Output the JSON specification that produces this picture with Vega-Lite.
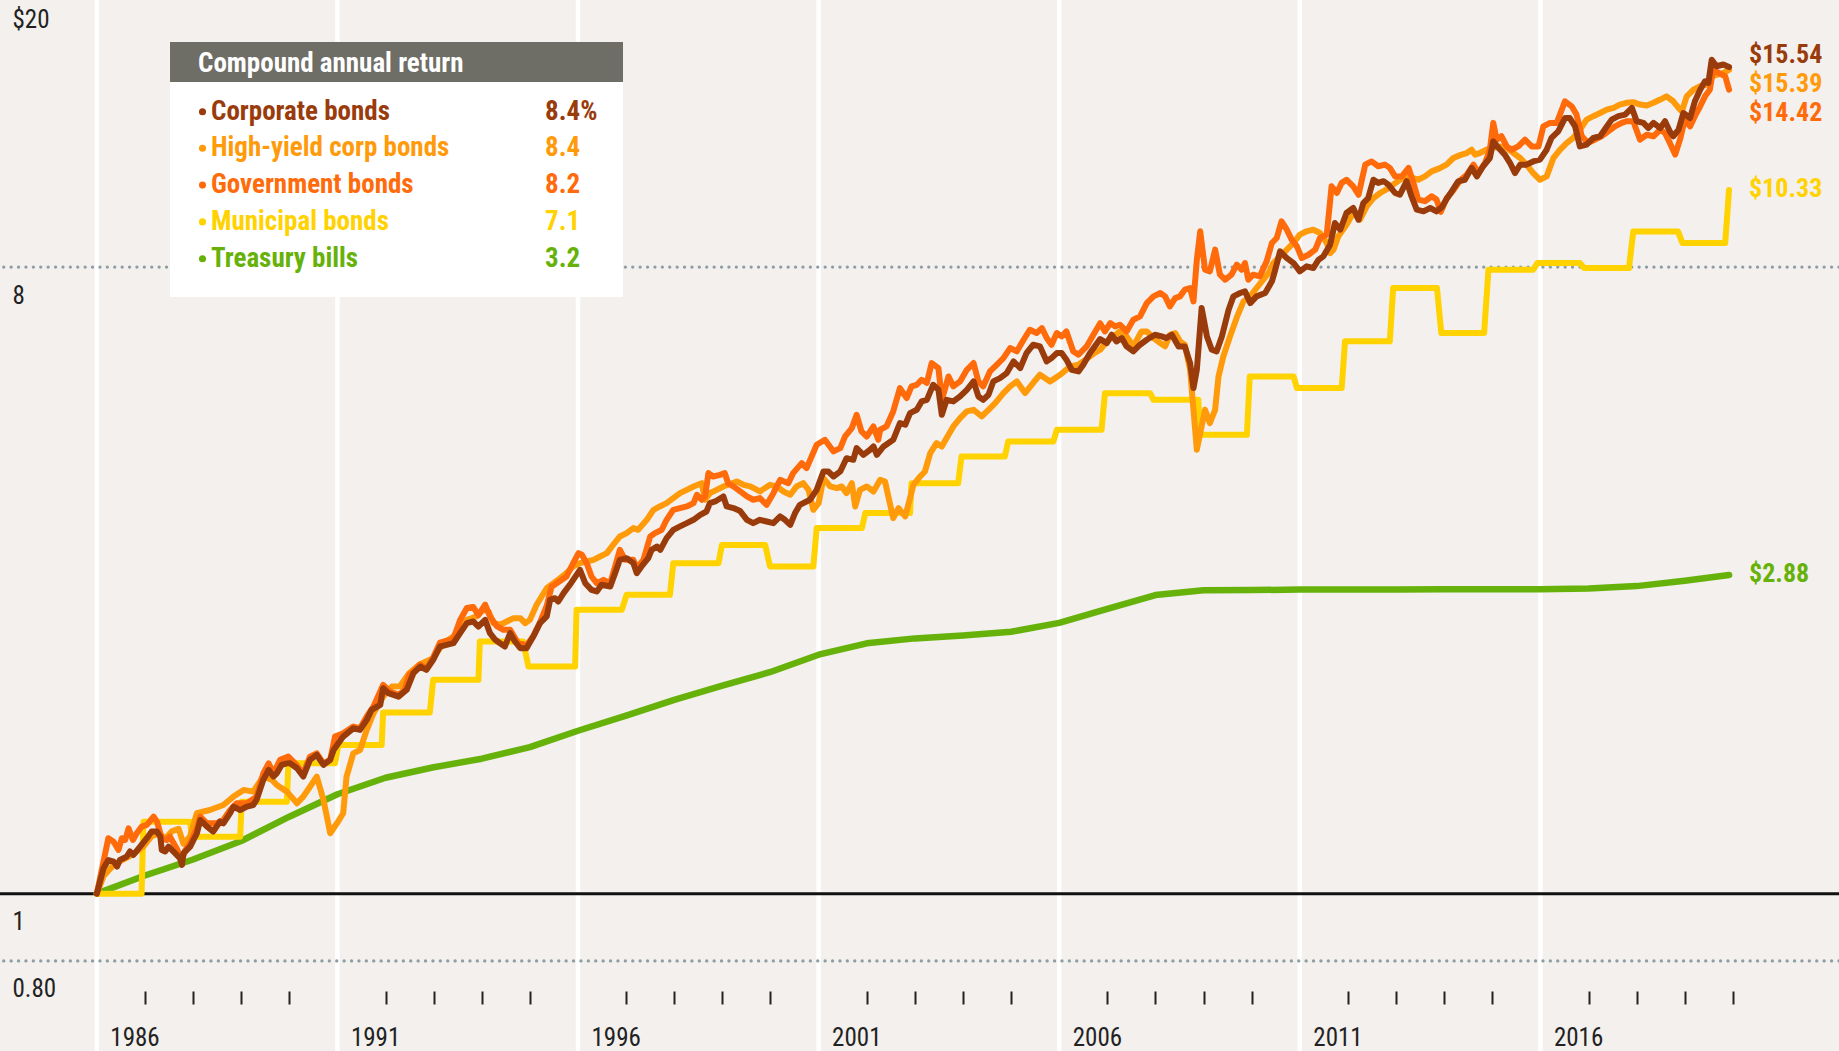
{
  "$schema": "https://vega.github.io/schema/vega-lite/v6.json",
  "width": 1839,
  "height": 1060,
  "autosize": {"type": "none"},
  "padding": {"top": -9, "left": 0, "right": 0, "bottom": 0},
  "background": "#f3f0ed",
  "config": {
    "view": {"stroke": null},
    "font": "Noto Sans ExtraCondensed, Roboto Condensed, Noto Sans Condensed, DejaVu Sans Condensed, sans-serif"
  },
  "datasets": {
    "corp": [
      {"year":1986.00,"value":1.000},{"year":1986.14,"value":1.088},{"year":1986.24,"value":1.118},{"year":1986.35,"value":1.112},{"year":1986.42,"value":1.094},{"year":1986.48,"value":1.118},{"year":1986.62,"value":1.131},{"year":1986.69,"value":1.150},{"year":1986.76,"value":1.137},{"year":1986.90,"value":1.169},
      {"year":1987.04,"value":1.202},{"year":1987.14,"value":1.229},{"year":1987.25,"value":1.229},{"year":1987.32,"value":1.208},{"year":1987.35,"value":1.156},{"year":1987.42,"value":1.150},{"year":1987.49,"value":1.169},{"year":1987.63,"value":1.143},{"year":1987.73,"value":1.124},{"year":1987.77,"value":1.100},{"year":1987.80,"value":1.143},{"year":1987.94,"value":1.169},
      {"year":1988.08,"value":1.222},{"year":1988.15,"value":1.277},{"year":1988.29,"value":1.249},{"year":1988.42,"value":1.229},{"year":1988.49,"value":1.249},{"year":1988.56,"value":1.270},{"year":1988.63,"value":1.263},{"year":1988.77,"value":1.306},{"year":1988.84,"value":1.335},{"year":1988.98,"value":1.320},
      {"year":1989.12,"value":1.335},{"year":1989.25,"value":1.342},{"year":1989.32,"value":1.365},{"year":1989.46,"value":1.459},{"year":1989.57,"value":1.508},{"year":1989.67,"value":1.475},{"year":1989.74,"value":1.491},{"year":1989.84,"value":1.533},{"year":1989.95,"value":1.541},
      {"year":1990.02,"value":1.541},{"year":1990.16,"value":1.516},{"year":1990.29,"value":1.475},{"year":1990.43,"value":1.559},{"year":1990.57,"value":1.585},{"year":1990.71,"value":1.533},{"year":1990.85,"value":1.559},{"year":1990.92,"value":1.611},
      {"year":1991.12,"value":1.684},{"year":1991.33,"value":1.731},{"year":1991.47,"value":1.722},{"year":1991.61,"value":1.780},{"year":1991.71,"value":1.840},{"year":1991.89,"value":1.871},{"year":1991.95,"value":1.977},
      {"year":1992.06,"value":1.945},{"year":1992.27,"value":1.923},{"year":1992.44,"value":1.967},{"year":1992.58,"value":2.079},{"year":1992.72,"value":2.125},{"year":1992.85,"value":2.102},{"year":1992.99,"value":2.173},
      {"year":1993.13,"value":2.271},{"year":1993.27,"value":2.283},{"year":1993.41,"value":2.296},{"year":1993.55,"value":2.374},{"year":1993.69,"value":2.454},{"year":1993.82,"value":2.468},{"year":1993.93,"value":2.427},
      {"year":1994.07,"value":2.481},{"year":1994.17,"value":2.374},{"year":1994.28,"value":2.322},{"year":1994.38,"value":2.296},{"year":1994.48,"value":2.271},{"year":1994.59,"value":2.374},{"year":1994.69,"value":2.309},{"year":1994.80,"value":2.258},{"year":1994.93,"value":2.258},
      {"year":1995.07,"value":2.347},{"year":1995.21,"value":2.454},{"year":1995.35,"value":2.509},{"year":1995.42,"value":2.651},{"year":1995.52,"value":2.666},{"year":1995.59,"value":2.637},{"year":1995.70,"value":2.711},{"year":1995.83,"value":2.787},{"year":1995.97,"value":2.881},
      {"year":1996.04,"value":2.929},{"year":1996.15,"value":2.802},{"year":1996.28,"value":2.741},{"year":1996.39,"value":2.726},{"year":1996.49,"value":2.787},{"year":1996.67,"value":2.771},{"year":1996.77,"value":2.897},{"year":1996.87,"value":3.028},
      {"year":1997.01,"value":3.045},{"year":1997.15,"value":2.995},{"year":1997.22,"value":2.897},{"year":1997.32,"value":2.962},{"year":1997.46,"value":3.045},{"year":1997.53,"value":3.130},{"year":1997.64,"value":3.165},{"year":1997.71,"value":3.130},{"year":1997.84,"value":3.254},{"year":1997.98,"value":3.345},
      {"year":1998.12,"value":3.383},{"year":1998.26,"value":3.420},{"year":1998.40,"value":3.458},{"year":1998.54,"value":3.516},{"year":1998.67,"value":3.555},{"year":1998.74,"value":3.655},{"year":1998.85,"value":3.675},
      {"year":1999.02,"value":3.737},{"year":1999.09,"value":3.615},{"year":1999.23,"value":3.595},{"year":1999.37,"value":3.560},{"year":1999.51,"value":3.458},{"year":1999.64,"value":3.420},{"year":1999.78,"value":3.458},{"year":1999.92,"value":3.439},
      {"year":2000.06,"value":3.420},{"year":2000.20,"value":3.497},{"year":2000.30,"value":3.458},{"year":2000.41,"value":3.401},{"year":2000.51,"value":3.536},{"year":2000.61,"value":3.634},{"year":2000.82,"value":3.696},{"year":2000.96,"value":3.820},
      {"year":2001.10,"value":4.060},{"year":2001.20,"value":4.060},{"year":2001.31,"value":3.993},{"year":2001.45,"value":4.060},{"year":2001.58,"value":4.243},{"year":2001.72,"value":4.220},{"year":2001.79,"value":4.387},{"year":2001.93,"value":4.291},
      {"year":2002.07,"value":4.363},{"year":2002.14,"value":4.411},{"year":2002.21,"value":4.291},{"year":2002.35,"value":4.411},{"year":2002.55,"value":4.510},{"year":2002.69,"value":4.767},{"year":2002.80,"value":4.741},{"year":2002.90,"value":4.928},
      {"year":2003.04,"value":4.982},{"year":2003.14,"value":5.122},{"year":2003.25,"value":5.150},{"year":2003.38,"value":5.413},{"year":2003.49,"value":5.324},{"year":2003.56,"value":4.900},{"year":2003.66,"value":5.150},{"year":2003.80,"value":5.122},{"year":2003.94,"value":5.208},
      {"year":2004.08,"value":5.324},{"year":2004.22,"value":5.474},{"year":2004.32,"value":5.208},{"year":2004.42,"value":5.150},{"year":2004.53,"value":5.237},{"year":2004.63,"value":5.474},{"year":2004.77,"value":5.535},{"year":2004.91,"value":5.627},
      {"year":2005.05,"value":5.850},{"year":2005.19,"value":5.722},{"year":2005.32,"value":6.014},{"year":2005.46,"value":6.183},{"year":2005.60,"value":6.149},{"year":2005.74,"value":5.850},{"year":2005.84,"value":5.915},{"year":2005.95,"value":6.014},
      {"year":2006.05,"value":6.014},{"year":2006.15,"value":5.883},{"year":2006.26,"value":5.690},{"year":2006.40,"value":5.659},{"year":2006.50,"value":5.785},{"year":2006.64,"value":6.014},{"year":2006.85,"value":6.300},{"year":2006.99,"value":6.217},
      {"year":2007.09,"value":6.391},{"year":2007.19,"value":6.252},{"year":2007.30,"value":6.321},{"year":2007.40,"value":6.149},{"year":2007.54,"value":6.047},{"year":2007.68,"value":6.183},{"year":2007.82,"value":6.286},{"year":2007.99,"value":6.391},
      {"year":2008.13,"value":6.356},{"year":2008.23,"value":6.321},{"year":2008.34,"value":6.391},{"year":2008.48,"value":6.149},{"year":2008.61,"value":6.149},{"year":2008.72,"value":5.818},{"year":2008.79,"value":5.354},{"year":2008.86,"value":5.690},{"year":2008.96,"value":6.983},
      {"year":2009.07,"value":6.356},{"year":2009.17,"value":6.081},{"year":2009.27,"value":6.047},{"year":2009.38,"value":6.356},{"year":2009.52,"value":6.945},{"year":2009.62,"value":7.259},{"year":2009.76,"value":7.340},{"year":2009.86,"value":7.381},{"year":2009.97,"value":7.099},
      {"year":2010.10,"value":7.259},{"year":2010.28,"value":7.340},{"year":2010.42,"value":7.630},{"year":2010.48,"value":7.887},{"year":2010.59,"value":8.428},{"year":2010.73,"value":8.244},{"year":2010.87,"value":8.108},
      {"year":2011.00,"value":7.887},{"year":2011.14,"value":8.019},{"year":2011.28,"value":7.975},{"year":2011.39,"value":8.199},{"year":2011.49,"value":8.290},{"year":2011.63,"value":8.618},{"year":2011.73,"value":9.260},{"year":2011.84,"value":9.057},{"year":2011.97,"value":9.573},
      {"year":2012.11,"value":9.733},{"year":2012.22,"value":9.364},{"year":2012.32,"value":9.896},{"year":2012.42,"value":10.06},{"year":2012.53,"value":10.69},{"year":2012.63,"value":10.58},{"year":2012.74,"value":10.64},{"year":2012.84,"value":10.52},{"year":2012.98,"value":10.23},
      {"year":2013.08,"value":10.17},{"year":2013.22,"value":10.64},{"year":2013.32,"value":10.12},{"year":2013.43,"value":9.680},{"year":2013.57,"value":9.626},{"year":2013.71,"value":9.733},{"year":2013.84,"value":9.626},{"year":2013.95,"value":9.760},
      {"year":2014.05,"value":10.03},{"year":2014.16,"value":10.29},{"year":2014.29,"value":10.63},{"year":2014.43,"value":10.69},{"year":2014.57,"value":11.12},{"year":2014.68,"value":10.81},{"year":2014.81,"value":11.18},{"year":2014.95,"value":11.49},
      {"year":2015.02,"value":12.14},{"year":2015.13,"value":11.88},{"year":2015.26,"value":11.62},{"year":2015.37,"value":11.30},{"year":2015.47,"value":10.93},{"year":2015.58,"value":11.24},{"year":2015.71,"value":11.24},{"year":2015.85,"value":11.36},{"year":2015.99,"value":11.43},
      {"year":2016.13,"value":11.81},{"year":2016.23,"value":12.28},{"year":2016.37,"value":12.55},{"year":2016.51,"value":13.12},{"year":2016.61,"value":13.12},{"year":2016.72,"value":12.76},{"year":2016.82,"value":11.94},{"year":2016.96,"value":12.01},
      {"year":2017.10,"value":12.28},{"year":2017.24,"value":12.35},{"year":2017.38,"value":12.76},{"year":2017.48,"value":13.05},{"year":2017.62,"value":13.20},{"year":2017.76,"value":13.27},{"year":2017.90,"value":13.57},
      {"year":2018.00,"value":12.98},{"year":2018.14,"value":12.91},{"year":2018.24,"value":12.69},{"year":2018.35,"value":12.91},{"year":2018.49,"value":12.69},{"year":2018.59,"value":12.98},{"year":2018.69,"value":12.55},{"year":2018.76,"value":12.35},{"year":2018.87,"value":12.62},{"year":2018.97,"value":13.34},
      {"year":2019.11,"value":13.12},{"year":2019.21,"value":13.87},{"year":2019.32,"value":14.41},{"year":2019.42,"value":14.82},{"year":2019.49,"value":14.74},{"year":2019.56,"value":15.92},{"year":2019.66,"value":15.58},{"year":2019.80,"value":15.67},{"year":2019.92,"value":15.54}
    ],
    "gov": [
      {"year":1986.00,"value":1.000},{"year":1986.24,"value":1.202},{"year":1986.35,"value":1.188},{"year":1986.45,"value":1.156},{"year":1986.52,"value":1.202},{"year":1986.59,"value":1.195},{"year":1986.66,"value":1.242},{"year":1986.75,"value":1.195},{"year":1986.83,"value":1.222},{"year":1986.93,"value":1.249},
      {"year":1987.04,"value":1.256},{"year":1987.18,"value":1.291},{"year":1987.25,"value":1.270},{"year":1987.35,"value":1.202},{"year":1987.45,"value":1.195},{"year":1987.52,"value":1.208},{"year":1987.66,"value":1.162},{"year":1987.77,"value":1.118},{"year":1987.84,"value":1.156},{"year":1987.94,"value":1.182},
      {"year":1988.08,"value":1.242},{"year":1988.15,"value":1.291},{"year":1988.29,"value":1.263},{"year":1988.49,"value":1.263},{"year":1988.63,"value":1.277},{"year":1988.77,"value":1.320},{"year":1988.91,"value":1.350},
      {"year":1989.12,"value":1.350},{"year":1989.32,"value":1.380},{"year":1989.46,"value":1.491},{"year":1989.57,"value":1.541},{"year":1989.67,"value":1.491},{"year":1989.81,"value":1.559},{"year":1989.98,"value":1.576},
      {"year":1990.12,"value":1.541},{"year":1990.29,"value":1.491},{"year":1990.43,"value":1.576},{"year":1990.57,"value":1.593},{"year":1990.71,"value":1.541},{"year":1990.85,"value":1.559},{"year":1990.95,"value":1.684},
      {"year":1991.12,"value":1.703},{"year":1991.33,"value":1.741},{"year":1991.47,"value":1.731},{"year":1991.61,"value":1.800},{"year":1991.75,"value":1.861},{"year":1991.95,"value":1.999},
      {"year":1992.09,"value":1.956},{"year":1992.27,"value":1.934},{"year":1992.40,"value":1.966},{"year":1992.49,"value":2.067},{"year":1992.58,"value":2.090},{"year":1992.72,"value":2.140},{"year":1992.85,"value":2.110},{"year":1992.99,"value":2.190},
      {"year":1993.13,"value":2.300},{"year":1993.41,"value":2.330},{"year":1993.55,"value":2.480},{"year":1993.69,"value":2.580},{"year":1993.82,"value":2.590},{"year":1993.93,"value":2.520},
      {"year":1994.07,"value":2.610},{"year":1994.17,"value":2.510},{"year":1994.31,"value":2.430},{"year":1994.45,"value":2.400},{"year":1994.59,"value":2.400},{"year":1994.75,"value":2.300},{"year":1994.93,"value":2.280},
      {"year":1995.07,"value":2.350},{"year":1995.21,"value":2.460},{"year":1995.35,"value":2.600},{"year":1995.45,"value":2.770},{"year":1995.76,"value":2.865},{"year":1995.90,"value":2.995},
      {"year":1996.01,"value":3.096},{"year":1996.08,"value":3.079},{"year":1996.18,"value":2.995},{"year":1996.28,"value":2.865},{"year":1996.39,"value":2.802},{"year":1996.53,"value":2.833},{"year":1996.67,"value":2.802},{"year":1996.77,"value":2.962},{"year":1996.87,"value":3.130},{"year":1996.98,"value":3.028},
      {"year":1997.15,"value":3.028},{"year":1997.22,"value":2.945},{"year":1997.36,"value":3.028},{"year":1997.50,"value":3.272},{"year":1997.60,"value":3.309},{"year":1997.74,"value":3.345},{"year":1997.84,"value":3.458},{"year":1997.98,"value":3.575},
      {"year":1998.12,"value":3.595},{"year":1998.26,"value":3.615},{"year":1998.40,"value":3.655},{"year":1998.47,"value":3.758},{"year":1998.57,"value":3.696},{"year":1998.64,"value":3.737},{"year":1998.71,"value":4.038},{"year":1998.81,"value":3.993},{"year":1998.95,"value":4.015},
      {"year":1999.05,"value":4.038},{"year":1999.12,"value":3.905},{"year":1999.23,"value":3.863},{"year":1999.37,"value":3.800},{"year":1999.51,"value":3.737},{"year":1999.64,"value":3.696},{"year":1999.78,"value":3.716},{"year":1999.92,"value":3.634},
      {"year":2000.06,"value":3.778},{"year":2000.20,"value":3.949},{"year":2000.37,"value":3.905},{"year":2000.47,"value":4.038},{"year":2000.65,"value":4.174},{"year":2000.75,"value":4.105},{"year":2000.96,"value":4.436},
      {"year":2001.13,"value":4.510},{"year":2001.31,"value":4.339},{"year":2001.45,"value":4.387},{"year":2001.55,"value":4.560},{"year":2001.69,"value":4.688},{"year":2001.79,"value":4.900},{"year":2001.89,"value":4.637},
      {"year":2002.00,"value":4.560},{"year":2002.14,"value":4.714},{"year":2002.24,"value":4.510},{"year":2002.28,"value":4.663},{"year":2002.41,"value":4.714},{"year":2002.55,"value":4.955},{"year":2002.69,"value":5.354},{"year":2002.83,"value":5.179},{"year":2002.93,"value":5.384},
      {"year":2003.04,"value":5.413},{"year":2003.14,"value":5.504},{"year":2003.25,"value":5.449},{"year":2003.35,"value":5.818},{"year":2003.49,"value":5.722},{"year":2003.56,"value":5.150},{"year":2003.70,"value":5.565},{"year":2003.80,"value":5.384},{"year":2003.94,"value":5.474},
      {"year":2004.08,"value":5.690},{"year":2004.22,"value":5.818},{"year":2004.32,"value":5.474},{"year":2004.42,"value":5.384},{"year":2004.56,"value":5.659},{"year":2004.70,"value":5.785},{"year":2004.84,"value":5.915},{"year":2004.98,"value":6.115},
      {"year":2005.12,"value":6.049},{"year":2005.26,"value":6.286},{"year":2005.39,"value":6.498},{"year":2005.53,"value":6.428},{"year":2005.64,"value":6.534},{"year":2005.74,"value":6.321},{"year":2005.84,"value":6.183},{"year":2005.95,"value":6.428},
      {"year":2006.05,"value":6.356},{"year":2006.15,"value":6.462},{"year":2006.29,"value":6.049},{"year":2006.40,"value":5.981},{"year":2006.57,"value":6.149},{"year":2006.71,"value":6.391},{"year":2006.85,"value":6.640},{"year":2006.95,"value":6.461},
      {"year":2007.06,"value":6.643},{"year":2007.16,"value":6.571},{"year":2007.26,"value":6.607},{"year":2007.40,"value":6.461},{"year":2007.54,"value":6.717},{"year":2007.68,"value":6.792},{"year":2007.82,"value":7.099},{"year":2007.96,"value":7.259},
      {"year":2008.10,"value":7.340},{"year":2008.20,"value":7.259},{"year":2008.30,"value":7.021},{"year":2008.41,"value":7.219},{"year":2008.51,"value":7.259},{"year":2008.61,"value":7.421},{"year":2008.72,"value":7.462},{"year":2008.79,"value":7.139},{"year":2008.86,"value":8.199},{"year":2008.93,"value":9.009},
      {"year":2009.03,"value":7.931},{"year":2009.13,"value":7.887},{"year":2009.24,"value":8.476},{"year":2009.34,"value":7.801},{"year":2009.45,"value":7.672},{"year":2009.58,"value":7.801},{"year":2009.69,"value":8.064},{"year":2009.79,"value":7.931},{"year":2009.86,"value":8.108},{"year":2009.93,"value":7.672},
      {"year":2010.03,"value":7.801},{"year":2010.17,"value":7.758},{"year":2010.31,"value":8.154},{"year":2010.42,"value":8.666},{"year":2010.52,"value":8.811},{"year":2010.62,"value":9.311},{"year":2010.73,"value":9.057},{"year":2010.83,"value":8.762},{"year":2010.94,"value":8.570},
      {"year":2011.04,"value":8.244},{"year":2011.18,"value":8.335},{"year":2011.32,"value":8.476},{"year":2011.42,"value":8.811},{"year":2011.56,"value":8.909},{"year":2011.66,"value":10.46},{"year":2011.77,"value":10.23},{"year":2011.87,"value":10.58},{"year":2011.97,"value":10.69},
      {"year":2012.11,"value":10.46},{"year":2012.22,"value":10.17},{"year":2012.36,"value":11.24},{"year":2012.49,"value":11.36},{"year":2012.63,"value":11.18},{"year":2012.77,"value":11.24},{"year":2012.87,"value":11.12},{"year":2012.98,"value":10.81},
      {"year":2013.12,"value":10.81},{"year":2013.26,"value":11.12},{"year":2013.36,"value":10.58},{"year":2013.46,"value":10.01},{"year":2013.60,"value":9.955},{"year":2013.74,"value":10.12},{"year":2013.84,"value":10.01},{"year":2013.93,"value":9.610},
      {"year":2014.05,"value":10.05},{"year":2014.19,"value":10.32},{"year":2014.33,"value":10.66},{"year":2014.47,"value":10.87},{"year":2014.61,"value":11.24},{"year":2014.71,"value":10.93},{"year":2014.85,"value":11.30},{"year":2014.95,"value":11.81},
      {"year":2015.02,"value":12.91},{"year":2015.09,"value":12.21},{"year":2015.19,"value":12.35},{"year":2015.30,"value":11.94},{"year":2015.40,"value":11.81},{"year":2015.54,"value":11.94},{"year":2015.68,"value":12.21},{"year":2015.82,"value":11.94},{"year":2015.96,"value":11.94},
      {"year":2016.06,"value":12.76},{"year":2016.20,"value":12.91},{"year":2016.34,"value":12.91},{"year":2016.51,"value":13.87},{"year":2016.65,"value":13.64},{"year":2016.75,"value":13.27},{"year":2016.86,"value":12.35},{"year":2016.99,"value":12.08},
      {"year":2017.13,"value":12.21},{"year":2017.27,"value":12.35},{"year":2017.41,"value":12.55},{"year":2017.55,"value":12.76},{"year":2017.69,"value":12.91},{"year":2017.79,"value":12.98},{"year":2017.93,"value":12.98},
      {"year":2018.07,"value":12.21},{"year":2018.21,"value":12.41},{"year":2018.35,"value":12.35},{"year":2018.49,"value":12.62},{"year":2018.59,"value":12.48},{"year":2018.69,"value":12.08},{"year":2018.80,"value":11.62},{"year":2018.90,"value":12.21},
      {"year":2019.00,"value":13.05},{"year":2019.11,"value":12.76},{"year":2019.21,"value":13.20},{"year":2019.32,"value":13.64},{"year":2019.42,"value":14.10},{"year":2019.52,"value":14.41},{"year":2019.59,"value":15.41},{"year":2019.70,"value":15.24},{"year":2019.84,"value":15.07},{"year":2019.92,"value":14.42}
    ],
    "hy": [
      {"year":1986.00,"value":1.000},{"year":1986.14,"value":1.060},{"year":1986.35,"value":1.100},{"year":1986.55,"value":1.120},{"year":1986.76,"value":1.140},{"year":1986.97,"value":1.170},
      {"year":1987.14,"value":1.210},{"year":1987.30,"value":1.220},{"year":1987.42,"value":1.200},{"year":1987.56,"value":1.230},{"year":1987.70,"value":1.240},{"year":1987.80,"value":1.180},{"year":1987.94,"value":1.210},
      {"year":1988.08,"value":1.306},{"year":1988.35,"value":1.320},{"year":1988.63,"value":1.342},{"year":1988.84,"value":1.380},
      {"year":1989.05,"value":1.411},{"year":1989.25,"value":1.403},{"year":1989.46,"value":1.475},{"year":1989.64,"value":1.459},{"year":1989.74,"value":1.434},{"year":1989.95,"value":1.403},
      {"year":1990.16,"value":1.350},{"year":1990.29,"value":1.380},{"year":1990.43,"value":1.426},{"year":1990.57,"value":1.475},{"year":1990.71,"value":1.365},{"year":1990.85,"value":1.222},{"year":1990.99,"value":1.263},
      {"year":1991.12,"value":1.306},{"year":1991.19,"value":1.475},{"year":1991.33,"value":1.593},{"year":1991.47,"value":1.611},{"year":1991.61,"value":1.722},{"year":1991.75,"value":1.820},{"year":1991.95,"value":1.923},
      {"year":1992.13,"value":1.988},{"year":1992.30,"value":1.990},{"year":1992.49,"value":2.078},{"year":1992.71,"value":2.140},{"year":1992.99,"value":2.185},
      {"year":1993.20,"value":2.296},{"year":1993.41,"value":2.347},{"year":1993.69,"value":2.481},{"year":1993.89,"value":2.509},
      {"year":1994.03,"value":2.565},{"year":1994.14,"value":2.551},{"year":1994.24,"value":2.454},{"year":1994.38,"value":2.441},{"year":1994.52,"value":2.468},{"year":1994.66,"value":2.495},{"year":1994.80,"value":2.495},{"year":1994.90,"value":2.454},
      {"year":1995.00,"value":2.481},{"year":1995.14,"value":2.608},{"year":1995.35,"value":2.756},{"year":1995.49,"value":2.802},{"year":1995.63,"value":2.849},{"year":1995.76,"value":2.897},{"year":1995.90,"value":2.962},
      {"year":1996.04,"value":2.995},{"year":1996.18,"value":3.011},{"year":1996.32,"value":3.028},{"year":1996.46,"value":3.062},{"year":1996.60,"value":3.096},{"year":1996.73,"value":3.183},{"year":1996.87,"value":3.272},
      {"year":1997.01,"value":3.309},{"year":1997.15,"value":3.364},{"year":1997.25,"value":3.345},{"year":1997.43,"value":3.458},{"year":1997.57,"value":3.575},{"year":1997.70,"value":3.615},{"year":1997.84,"value":3.655},{"year":1997.98,"value":3.716},
      {"year":1998.12,"value":3.778},{"year":1998.26,"value":3.820},{"year":1998.40,"value":3.863},{"year":1998.57,"value":3.905},{"year":1998.64,"value":3.696},{"year":1998.74,"value":3.778},{"year":1998.88,"value":3.820},
      {"year":1999.02,"value":3.863},{"year":1999.30,"value":3.927},{"year":1999.44,"value":3.884},{"year":1999.58,"value":3.863},{"year":1999.78,"value":3.800},{"year":1999.99,"value":3.884},
      {"year":2000.13,"value":3.863},{"year":2000.27,"value":3.799},{"year":2000.41,"value":3.758},{"year":2000.54,"value":3.863},{"year":2000.68,"value":3.905},{"year":2000.79,"value":3.820},{"year":2000.89,"value":3.575},
      {"year":2001.00,"value":3.655},{"year":2001.10,"value":3.971},{"year":2001.24,"value":3.863},{"year":2001.38,"value":3.842},{"year":2001.48,"value":3.863},{"year":2001.58,"value":3.778},{"year":2001.69,"value":3.905},{"year":2001.76,"value":3.615},{"year":2001.86,"value":3.820},
      {"year":2002.00,"value":3.863},{"year":2002.14,"value":3.799},{"year":2002.28,"value":3.949},{"year":2002.38,"value":3.927},{"year":2002.48,"value":3.655},{"year":2002.55,"value":3.477},{"year":2002.66,"value":3.595},{"year":2002.80,"value":3.497},{"year":2002.90,"value":3.716},{"year":2002.97,"value":3.884},
      {"year":2003.11,"value":3.993},{"year":2003.21,"value":4.060},{"year":2003.32,"value":4.315},{"year":2003.45,"value":4.460},{"year":2003.56,"value":4.411},{"year":2003.66,"value":4.535},{"year":2003.80,"value":4.714},{"year":2003.94,"value":4.846},
      {"year":2004.08,"value":4.955},{"year":2004.22,"value":4.982},{"year":2004.39,"value":4.873},{"year":2004.53,"value":4.982},{"year":2004.67,"value":5.094},{"year":2004.84,"value":5.266},{"year":2004.98,"value":5.384},
      {"year":2005.12,"value":5.474},{"year":2005.29,"value":5.266},{"year":2005.46,"value":5.449},{"year":2005.60,"value":5.597},{"year":2005.81,"value":5.474},
      {"year":2006.02,"value":5.597},{"year":2006.23,"value":5.754},{"year":2006.40,"value":5.785},{"year":2006.57,"value":5.900},{"year":2006.71,"value":6.000},{"year":2006.85,"value":6.080},{"year":2006.99,"value":6.252},
      {"year":2007.13,"value":6.356},{"year":2007.26,"value":6.461},{"year":2007.40,"value":6.356},{"year":2007.54,"value":6.149},{"year":2007.71,"value":6.461},{"year":2007.82,"value":6.461},{"year":2007.96,"value":6.321},
      {"year":2008.10,"value":6.217},{"year":2008.20,"value":6.149},{"year":2008.30,"value":6.391},{"year":2008.41,"value":6.426},{"year":2008.51,"value":6.252},{"year":2008.61,"value":6.183},{"year":2008.72,"value":5.690},{"year":2008.79,"value":4.982},{"year":2008.86,"value":4.363},{"year":2008.93,"value":4.611},
      {"year":2009.03,"value":4.982},{"year":2009.13,"value":4.767},{"year":2009.24,"value":4.982},{"year":2009.31,"value":5.565},{"year":2009.41,"value":5.947},{"year":2009.55,"value":6.356},{"year":2009.69,"value":6.770},{"year":2009.83,"value":7.139},{"year":2009.97,"value":7.259},
      {"year":2010.10,"value":7.462},{"year":2010.24,"value":7.672},{"year":2010.35,"value":7.844},{"year":2010.45,"value":8.108},{"year":2010.59,"value":8.290},{"year":2010.73,"value":8.476},{"year":2010.87,"value":8.666},
      {"year":2011.00,"value":8.909},{"year":2011.14,"value":9.009},{"year":2011.28,"value":9.057},{"year":2011.42,"value":8.960},{"year":2011.56,"value":8.666},{"year":2011.63,"value":8.381},{"year":2011.70,"value":8.476},{"year":2011.80,"value":8.861},{"year":2011.97,"value":9.210},
      {"year":2012.11,"value":9.573},{"year":2012.25,"value":9.364},{"year":2012.39,"value":9.787},{"year":2012.53,"value":10.06},{"year":2012.67,"value":10.23},{"year":2012.80,"value":10.35},{"year":2012.94,"value":10.52},
      {"year":2013.08,"value":10.69},{"year":2013.22,"value":10.81},{"year":2013.36,"value":10.75},{"year":2013.46,"value":10.69},{"year":2013.60,"value":10.81},{"year":2013.74,"value":10.99},{"year":2013.90,"value":11.10},
      {"year":2014.05,"value":11.24},{"year":2014.19,"value":11.49},{"year":2014.33,"value":11.60},{"year":2014.47,"value":11.68},{"year":2014.57,"value":11.81},{"year":2014.64,"value":11.62},{"year":2014.74,"value":11.68},{"year":2014.88,"value":11.81},
      {"year":2015.02,"value":11.88},{"year":2015.16,"value":11.94},{"year":2015.30,"value":11.88},{"year":2015.44,"value":11.68},{"year":2015.58,"value":11.49},{"year":2015.71,"value":11.24},{"year":2015.85,"value":10.93},{"year":2015.99,"value":10.69},
      {"year":2016.13,"value":10.81},{"year":2016.27,"value":11.49},{"year":2016.41,"value":11.81},{"year":2016.55,"value":12.08},{"year":2016.68,"value":12.28},{"year":2016.82,"value":12.62},{"year":2016.96,"value":13.05},
      {"year":2017.10,"value":13.20},{"year":2017.24,"value":13.34},{"year":2017.38,"value":13.49},{"year":2017.52,"value":13.57},{"year":2017.65,"value":13.72},{"year":2017.79,"value":13.80},{"year":2017.93,"value":13.83},
      {"year":2018.07,"value":13.72},{"year":2018.21,"value":13.68},{"year":2018.35,"value":13.80},{"year":2018.49,"value":13.95},{"year":2018.62,"value":14.10},{"year":2018.76,"value":13.87},{"year":2018.87,"value":13.57},{"year":2018.94,"value":13.41},
      {"year":2019.04,"value":14.10},{"year":2019.18,"value":14.41},{"year":2019.32,"value":14.58},{"year":2019.46,"value":14.66},{"year":2019.56,"value":15.07},{"year":2019.66,"value":15.14},{"year":2019.80,"value":15.24},{"year":2019.92,"value":15.39}
    ],
    "muni": [
      {"year":1986.00,"value":1.000},{"year":1986.93,"value":1.000},{"year":1986.97,"value":1.270},{"year":1987.94,"value":1.270},{"year":1987.97,"value":1.208},{"year":1988.98,"value":1.208},
      {"year":1989.01,"value":1.357},{"year":1989.95,"value":1.357},{"year":1989.98,"value":1.541},{"year":1990.95,"value":1.541},{"year":1991.02,"value":1.638},{"year":1991.92,"value":1.638},
      {"year":1991.95,"value":1.825},{"year":1992.92,"value":1.825},{"year":1992.99,"value":2.033},{"year":1993.93,"value":2.033},{"year":1993.96,"value":2.309},{"year":1994.86,"value":2.309},
      {"year":1994.97,"value":2.125},{"year":1995.94,"value":2.125},{"year":1995.97,"value":2.565},{"year":1996.91,"value":2.565},{"year":1997.01,"value":2.696},{"year":1997.91,"value":2.696},
      {"year":1997.98,"value":2.995},{"year":1998.92,"value":2.995},{"year":1998.99,"value":3.180},{"year":1999.89,"value":3.180},{"year":1999.99,"value":2.962},{"year":2000.89,"value":2.962},
      {"year":2000.96,"value":3.364},{"year":2001.90,"value":3.364},{"year":2001.97,"value":3.536},{"year":2002.90,"value":3.536},{"year":2002.93,"value":3.905},{"year":2003.90,"value":3.905},
      {"year":2003.97,"value":4.267},{"year":2004.87,"value":4.267},{"year":2004.94,"value":4.485},{"year":2005.88,"value":4.485},{"year":2005.95,"value":4.662},{"year":2006.88,"value":4.662},
      {"year":2006.95,"value":5.265},{"year":2007.89,"value":5.265},{"year":2007.96,"value":5.150},{"year":2008.89,"value":5.150},{"year":2008.93,"value":4.585},{"year":2009.90,"value":4.585},
      {"year":2009.96,"value":5.565},{"year":2010.87,"value":5.565},{"year":2010.94,"value":5.354},{"year":2011.87,"value":5.354},{"year":2011.94,"value":6.252},{"year":2012.87,"value":6.252},
      {"year":2012.94,"value":7.463},{"year":2013.85,"value":7.463},{"year":2013.94,"value":6.427},{"year":2014.83,"value":6.427},{"year":2014.92,"value":7.930},{"year":2015.85,"value":7.930},
      {"year":2015.94,"value":8.110},{"year":2016.82,"value":8.110},{"year":2016.91,"value":7.975},{"year":2017.84,"value":7.975},{"year":2017.93,"value":9.006},{"year":2018.86,"value":9.006},
      {"year":2018.95,"value":8.666},{"year":2019.84,"value":8.666},{"year":2019.92,"value":10.33}
    ],
    "tbill": [
      {"year":1986.0,"value":1.000},{"year":1987.0,"value":1.062},{"year":1988.0,"value":1.120},{"year":1989.0,"value":1.191},{"year":1990.0,"value":1.291},{"year":1991.0,"value":1.391},
      {"year":1992.0,"value":1.469},{"year":1993.0,"value":1.521},{"year":1994.0,"value":1.565},{"year":1995.0,"value":1.626},{"year":1996.0,"value":1.717},{"year":1997.0,"value":1.806},
      {"year":1998.0,"value":1.902},{"year":1999.0,"value":1.994},{"year":2000.0,"value":2.087},{"year":2001.0,"value":2.210},{"year":2002.0,"value":2.295},{"year":2003.0,"value":2.333},
      {"year":2004.0,"value":2.356},{"year":2005.0,"value":2.385},{"year":2006.0,"value":2.456},{"year":2007.0,"value":2.574},{"year":2008.0,"value":2.694},{"year":2009.0,"value":2.737},
      {"year":2010.0,"value":2.739},{"year":2011.0,"value":2.743},{"year":2012.0,"value":2.744},{"year":2013.0,"value":2.745},{"year":2014.0,"value":2.746},{"year":2015.0,"value":2.747},
      {"year":2016.0,"value":2.747},{"year":2017.0,"value":2.753},{"year":2018.0,"value":2.775},{"year":2019.0,"value":2.825},{"year":2019.92,"value":2.880}
    ]
  },
  "layer": [
    {
      "data": {"values": [{"year":1986},{"year":1991},{"year":1996},{"year":2001},{"year":2006},{"year":2011},{"year":2016}]},
      "mark": {"type": "rule", "color": "#ffffff", "strokeWidth": 4.5},
      "encoding": {
        "x": {
          "field": "year", "type": "quantitative", "title": null,
          "scale": {"type": "linear", "domain": [1983.988, 2022.205], "zero": false, "nice": false},
          "axis": {
            "values": [1986,1987,1988,1989,1990,1991,1992,1993,1994,1995,1996,1997,1998,1999,2000,2001,2002,2003,2004,2005,2006,2007,2008,2009,2010,2011,2012,2013,2014,2015,2016,2017,2018,2019,2020],
            "labelExpr": "(datum.value - 1986) % 5 == 0 ? format(datum.value, 'd') : ''",
            "domain": false, "grid": false, "ticks": true,
            "tickSize": 13, "tickWidth": 2, "tickColor": "#222222",
            "tickOpacity": {"condition": {"test": "(datum.value - 1986) % 5 == 0", "value": 0}, "value": 1},
            "offset": -60,
            "labelAlign": "left", "labelOffset": 13, "labelPadding": 21, "labelBaseline": "top",
            "labelFontSize": 25, "labelColor": "#222222",
            "labelOverlap": false, "labelFlush": false, "labelBound": false, "title": null
          }
        }
      }
    },
    {
      "data": {"values": [{"value":20},{"value":8},{"value":0.8}]},
      "mark": {"type": "rule", "color": "#8c9ea4", "strokeWidth": 3.2, "strokeDash": [0.1, 7.3], "strokeCap": "round"},
      "encoding": {
        "y": {
          "field": "value", "type": "quantitative", "title": null,
          "scale": {"type": "log", "domain": [0.5932, 20], "nice": false},
          "axis": {
            "values": [20, 8, 1, 0.8],
            "labelExpr": "datum.value == 20 ? '$20' : datum.value == 0.8 ? '0.80' : format(datum.value, 'd')",
            "domain": false, "ticks": false, "grid": false,
            "labelAlign": "left", "labelPadding": -12, "labelOffset": 28, "labelBaseline": "middle",
            "labelFontSize": 25, "labelColor": "#222222",
            "labelOverlap": false, "labelFlush": false, "labelBound": false, "title": null
          }
        }
      }
    },
    {
      "data": {"values": [{"value":1}]},
      "mark": {"type": "rule", "color": "#111111", "strokeWidth": 3},
      "encoding": {"y": {"field": "value", "type": "quantitative", "title": null}}
    },
    {
      "data": {"name": "tbill"},
      "mark": {"type": "line", "strokeWidth": 6.5, "strokeCap": "round", "strokeJoin": "round"},
      "encoding": {
        "x": {"field": "year", "type": "quantitative", "title": null},
        "y": {"field": "value", "type": "quantitative", "title": null},
        "color": {
          "datum": "Treasury bills", "type": "nominal",
          "scale": {
            "domain": ["Corporate bonds", "High-yield corp bonds", "Government bonds", "Municipal bonds", "Treasury bills", "8.4%", "8.4", "8.2", "7.1", "3.2"],
            "range": ["#993b0b", "#ff9a0a", "#ff6a0a", "#ffd200", "#66b20a", "#993b0b", "#ff9a0a", "#ff6a0a", "#ffd200", "#66b20a"]
          },
          "legend": {
            "orient": "none", "legendX": 170, "legendY": 51,
            "title": "Compound annual return",
            "titleFontSize": 27, "titleFontWeight": "bold", "titleColor": "#ffffff", "titlePadding": 4, "titleAnchor": "start", "titleLimit": 600,
            "padding": 25, "columns": 2, "columnPadding": 79, "rowPadding": 8.8,
            "symbolType": "circle", "symbolSize": 50, "symbolStrokeWidth": 0, "symbolOffset": -6,
            "labelFontSize": 27, "labelFontWeight": "bold", "labelOffset": -5, "labelLimit": 500,
            "labelExpr": "indexof(['8.4%','8.4','8.2','7.1','3.2'], datum.label) >= 0 ? datum.label + '\u00a0\u00a0' : datum.label",
            "fillColor": "#ffffff",
            "encode": {
              "legend": {"update": {"fill": {"value": {"gradient": "linear", "x1": 0, "y1": 0, "x2": 0, "y2": 1, "stops": [{"offset": 0, "color": "#6e6d66"}, {"offset": 0.155, "color": "#6e6d66"}, {"offset": 0.155, "color": "#ffffff"}, {"offset": 1, "color": "#ffffff"}]}}}},
              "title": {"update": {"dx": {"value": 3}, "dy": {"value": -16}}},
              "labels": {"update": {"fill": {"scale": "color", "field": "value"}}},
              "symbols": {"update": {"fill": {"scale": "color", "field": "value"}, "stroke": {"value": "transparent"}, "opacity": {"signal": "indexof(['8.4%','8.4','8.2','7.1','3.2'], datum.value) < 0 ? 1 : 0"}}}
            }
          }
        }
      }
    },
    {
      "data": {"name": "muni"},
      "mark": {"type": "line", "strokeWidth": 6, "strokeCap": "round", "strokeJoin": "round"},
      "encoding": {
        "x": {"field": "year", "type": "quantitative", "title": null},
        "y": {"field": "value", "type": "quantitative", "title": null},
        "color": {"datum": "Municipal bonds", "type": "nominal"}
      }
    },
    {
      "data": {"name": "hy"},
      "mark": {"type": "line", "strokeWidth": 6, "strokeCap": "round", "strokeJoin": "round"},
      "encoding": {
        "x": {"field": "year", "type": "quantitative", "title": null},
        "y": {"field": "value", "type": "quantitative", "title": null},
        "color": {"datum": "High-yield corp bonds", "type": "nominal"}
      }
    },
    {
      "data": {"name": "gov"},
      "mark": {"type": "line", "strokeWidth": 6, "strokeCap": "round", "strokeJoin": "round"},
      "encoding": {
        "x": {"field": "year", "type": "quantitative", "title": null},
        "y": {"field": "value", "type": "quantitative", "title": null},
        "color": {"datum": "Government bonds", "type": "nominal"}
      }
    },
    {
      "data": {"name": "corp"},
      "mark": {"type": "line", "strokeWidth": 6, "strokeCap": "round", "strokeJoin": "round"},
      "encoding": {
        "x": {"field": "year", "type": "quantitative", "title": null},
        "y": {"field": "value", "type": "quantitative", "title": null},
        "color": {"datum": "Corporate bonds", "type": "nominal"}
      }
    },
    {
      "data": {"name": "corp"},
      "transform": [{"filter": "datum.year > 2019.9"}],
      "mark": {"type": "text", "align": "left", "baseline": "middle", "dx": 20, "dy": -12, "fontSize": 26, "fontWeight": "bold"},
      "encoding": {
        "x": {"field": "year", "type": "quantitative", "title": null},
        "y": {"field": "value", "type": "quantitative", "title": null},
        "text": {"field": "value", "type": "quantitative", "format": "$.2f"},
        "color": {"datum": "Corporate bonds", "type": "nominal"}
      }
    },
    {
      "data": {"name": "hy"},
      "transform": [{"filter": "datum.year > 2019.9"}],
      "mark": {"type": "text", "align": "left", "baseline": "middle", "dx": 20, "dy": 14, "fontSize": 26, "fontWeight": "bold"},
      "encoding": {
        "x": {"field": "year", "type": "quantitative", "title": null},
        "y": {"field": "value", "type": "quantitative", "title": null},
        "text": {"field": "value", "type": "quantitative", "format": "$.2f"},
        "color": {"datum": "High-yield corp bonds", "type": "nominal"}
      }
    },
    {
      "data": {"name": "gov"},
      "transform": [{"filter": "datum.year > 2019.9"}],
      "mark": {"type": "text", "align": "left", "baseline": "middle", "dx": 20, "dy": 23, "fontSize": 26, "fontWeight": "bold"},
      "encoding": {
        "x": {"field": "year", "type": "quantitative", "title": null},
        "y": {"field": "value", "type": "quantitative", "title": null},
        "text": {"field": "value", "type": "quantitative", "format": "$.2f"},
        "color": {"datum": "Government bonds", "type": "nominal"}
      }
    },
    {
      "data": {"name": "muni"},
      "transform": [{"filter": "datum.year > 2019.9"}],
      "mark": {"type": "text", "align": "left", "baseline": "middle", "dx": 20, "dy": -1, "fontSize": 26, "fontWeight": "bold"},
      "encoding": {
        "x": {"field": "year", "type": "quantitative", "title": null},
        "y": {"field": "value", "type": "quantitative", "title": null},
        "text": {"field": "value", "type": "quantitative", "format": "$.2f"},
        "color": {"datum": "Municipal bonds", "type": "nominal"}
      }
    },
    {
      "data": {"name": "tbill"},
      "transform": [{"filter": "datum.year > 2019.9"}],
      "mark": {"type": "text", "align": "left", "baseline": "middle", "dx": 20, "dy": -1, "fontSize": 26, "fontWeight": "bold"},
      "encoding": {
        "x": {"field": "year", "type": "quantitative", "title": null},
        "y": {"field": "value", "type": "quantitative", "title": null},
        "text": {"field": "value", "type": "quantitative", "format": "$.2f"},
        "color": {"datum": "Treasury bills", "type": "nominal"}
      }
    }
  ]
}
